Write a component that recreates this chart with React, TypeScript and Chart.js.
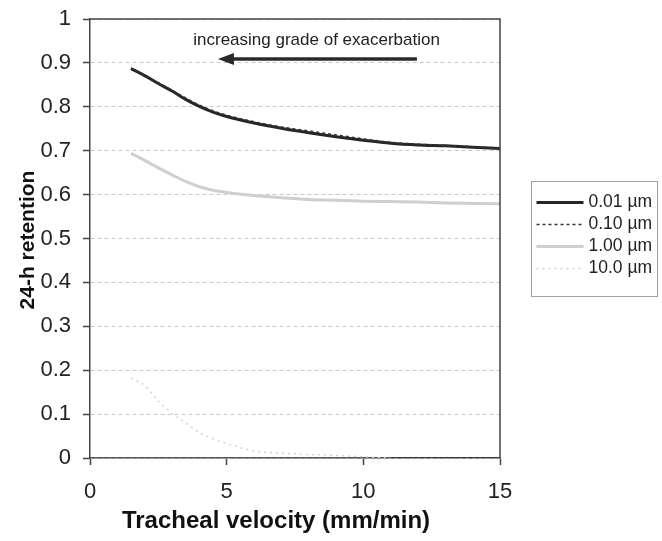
import React, { useEffect, useRef } from "react";
import { Chart, registerables } from "chart.js";

Chart.register(...registerables);

// ---- data ----
const velocity = [1.5, 2, 2.5, 3, 3.5, 4, 4.5, 5, 6, 7, 8, 9, 10, 11, 12, 13, 14, 15];
const ret001 = [0.887, 0.871, 0.853, 0.836, 0.817, 0.801, 0.788, 0.778, 0.763, 0.751, 0.741, 0.732, 0.724, 0.717, 0.713, 0.711, 0.708, 0.705];
const ret010 = [0.888, 0.872, 0.855, 0.838, 0.82, 0.804, 0.791, 0.781, 0.766, 0.754, 0.745, 0.736, 0.727, 0.719, 0.715, 0.712, 0.709, 0.706];
const ret100 = [0.694, 0.678, 0.661, 0.645, 0.63, 0.618, 0.61, 0.605, 0.598, 0.593, 0.589, 0.587, 0.585, 0.584, 0.583, 0.581, 0.58, 0.579];
const ret1000 = [0.182, 0.165, 0.13, 0.102, 0.08, 0.058, 0.044, 0.033, 0.016, 0.011, 0.008, 0.006, 0.003, 0, 0, 0, 0, 0];
const seriesLabels = ["0.01 µm", "0.10 µm", "1.00 µm", "10.0 µm"];
const xTicks = [0, 5, 10, 15];
const yTicks = [0, 0.1, 0.2, 0.3, 0.4, 0.5, 0.6, 0.7, 0.8, 0.9, 1];
const xTitle = "Tracheal velocity (mm/min)";
const yTitle = "24-h retention";
const annotationText = "increasing grade of exacerbation";
const arrowFrom = [11.96, 0.909];
const arrowTo = [4.68, 0.909];
const annotationPos = [8.29, 0.952];

const FONT = "'Liberation Sans', Arial, Helvetica, sans-serif";

const pts = (ys: number[]) => velocity.map((x, i) => ({ x, y: ys[i] }));

const styles = [
  { color: "#262626", width: 3, dash: [] as number[] },
  { color: "#333333", width: 1.5, dash: [3, 3] },
  { color: "#cfcfcf", width: 3, dash: [] as number[] },
  { color: "#d4d4d4", width: 1.5, dash: [2, 4] },
];

const extrasPlugin = {
  id: "extras",
  afterDraw(chart: any) {
    const { ctx, chartArea: a, scales } = chart;
    const xs = scales.x;
    const ys = scales.y;
    ctx.save();
    // frame top & right
    ctx.strokeStyle = "#444";
    ctx.lineWidth = 1.5;
    ctx.setLineDash([]);
    ctx.beginPath();
    ctx.moveTo(a.left, a.top);
    ctx.lineTo(a.right, a.top);
    ctx.lineTo(a.right, a.bottom);
    ctx.stroke();

    // axis titles
    ctx.fillStyle = "#111";
    ctx.textAlign = "center";
    ctx.textBaseline = "middle";
    ctx.font = `bold 24px ${FONT}`;
    ctx.fillText(xTitle, 276, 521);
    ctx.save();
    ctx.font = `bold 21px ${FONT}`;
    ctx.translate(28, 240);
    ctx.rotate(-Math.PI / 2);
    ctx.fillText(yTitle, 0, 0);
    ctx.restore();

    // annotation text
    ctx.fillStyle = "#222";
    ctx.font = `17px ${FONT}`;
    ctx.textAlign = "center";
    ctx.textBaseline = "middle";
    ctx.fillText(annotationText, xs.getPixelForValue(annotationPos[0]), ys.getPixelForValue(annotationPos[1]));

    // arrow
    const x1 = xs.getPixelForValue(arrowFrom[0]);
    const y1 = ys.getPixelForValue(arrowFrom[1]);
    const x2 = xs.getPixelForValue(arrowTo[0]);
    const y2 = ys.getPixelForValue(arrowTo[1]);
    ctx.strokeStyle = "#2a2a2a";
    ctx.fillStyle = "#2a2a2a";
    ctx.lineWidth = 3.5;
    ctx.beginPath();
    ctx.moveTo(x1, y1);
    ctx.lineTo(x2 + 14, y2);
    ctx.stroke();
    ctx.beginPath();
    ctx.moveTo(x2, y2);
    ctx.lineTo(x2 + 16, y2 - 6);
    ctx.lineTo(x2 + 16, y2 + 6);
    ctx.closePath();
    ctx.fill();

    // legend
    const lx = a.right + 31.5;
    const ly = 181.5;
    const lw = 126;
    const lh = 115;
    ctx.strokeStyle = "#a0a0a0";
    ctx.lineWidth = 1;
    ctx.strokeRect(lx, ly, lw, lh);
    ctx.font = `17.5px ${FONT}`;
    ctx.textAlign = "left";
    ctx.textBaseline = "middle";
    seriesLabels.forEach((lab, i) => {
      const cy = ly + 21 + i * 22;
      const s = styles[i];
      ctx.strokeStyle = s.color;
      ctx.lineWidth = s.width;
      ctx.setLineDash(s.dash);
      ctx.beginPath();
      ctx.moveTo(lx + 5, cy);
      ctx.lineTo(lx + 52, cy);
      ctx.stroke();
      ctx.setLineDash([]);
      ctx.fillStyle = "#222";
      ctx.fillText(lab, lx + 57, cy);
    });
    ctx.restore();
  },
};

export default function App() {
  const ref = useRef<HTMLCanvasElement | null>(null);
  useEffect(() => {
    if (!ref.current) return;
    const datasets = [ret001, ret010, ret100, ret1000].map((ys, i) => ({
      label: seriesLabels[i],
      data: pts(ys),
      borderColor: styles[i].color,
      borderWidth: styles[i].width,
      borderDash: styles[i].dash,
      pointRadius: 0,
      fill: false,
      tension: 0.4,
      cubicInterpolationMode: "monotone" as const,
      segment:
        i === 3
          ? {
              borderColor: (c: any) => (c.p0.parsed.x >= 11 ? "#222222" : undefined),
              borderDash: (c: any) => (c.p0.parsed.x >= 11 ? [4, 2] : undefined),
            }
          : undefined,
    }));
    const chart = new Chart(ref.current, {
      type: "line",
      data: { datasets: [datasets[3], datasets[2], datasets[1], datasets[0]] },
      options: {
        animation: false,
        responsive: false,
        maintainAspectRatio: false,
        layout: { padding: { left: 0, right: 162, top: 19, bottom: 0 } },
        plugins: { legend: { display: false }, tooltip: { enabled: false } },
        scales: {
          x: {
            type: "linear",
            min: 0,
            max: 15,
            afterBuildTicks: (s: any) => {
              s.ticks = xTicks.map((v) => ({ value: v }));
            },
            afterFit: (s: any) => {
              s.height = 83;
              s.paddingLeft = 0;
              s.paddingRight = 0;
            },
            ticks: {
              color: "#222",
              font: { family: FONT, size: 22 },
              padding: 14,
              maxRotation: 0,
            },
            grid: {
              drawOnChartArea: false,
              drawTicks: true,
              tickLength: 7,
              tickColor: "#444",
              tickWidth: 1.5,
              tickBorderDash: [],
            },
            border: { display: true, color: "#555", width: 1.5 },
          },
          y: {
            type: "linear",
            min: 0,
            max: 1,
            afterBuildTicks: (s: any) => {
              s.ticks = yTicks.map((v) => ({ value: v }));
            },
            afterFit: (s: any) => {
              s.width = 90;
              s.paddingTop = 0;
              s.paddingBottom = 0;
            },
            ticks: {
              color: "#222",
              font: { family: FONT, size: 22 },
              padding: 12,
              callback: (v: any) => {
                const n = Number(v);
                return n === 0 || n === 1 ? String(n) : n.toFixed(1);
              },
            },
            grid: {
              color: "#c8c8c8",
              lineWidth: 1,
              drawTicks: true,
              tickLength: 7,
              tickColor: "#444",
              tickWidth: 1.5,
              tickBorderDash: [],
            },
            border: { display: true, color: "#444", width: 1.5, dash: [4, 3] },
          },
        },
      },
      plugins: [extrasPlugin],
    } as any);
    return () => chart.destroy();
  }, []);
  return (
    <div style={{ position: "absolute", left: 0, top: 0, width: 662, height: 541, background: "#fff" }}>
      <canvas ref={ref} width={662} height={541} style={{ display: "block", width: 662, height: 541 }} />
    </div>
  );
}
